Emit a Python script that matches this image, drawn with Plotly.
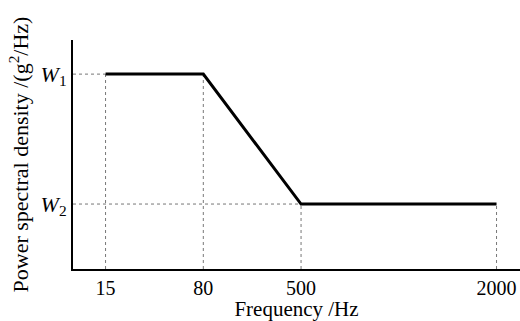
import plotly.graph_objects as go

# Data
freq_labels = ["15", "80", "500", "2000"]
freq_pos = [1, 2, 3, 5]          # axis slot of each frequency break-point
psd_labels = ["<i>W</i><sub>1</sub>", "<i>W</i><sub>2</sub>"]
psd_levels = [3, 1]              # relative levels of W1 and W2
psd_values = [3, 3, 1, 1]        # PSD at each frequency break-point

x_range = [0.667, 5.24]
y_range = [0, 3.525]

fig = go.Figure()

guide = dict(color="#777777", width=1, dash="dot")
# vertical guides
for xp, yv in zip(freq_pos, psd_values):
    fig.add_trace(go.Scatter(x=[xp, xp], y=[0, yv], mode="lines", line=guide,
                             hoverinfo="skip", showlegend=False))
# horizontal guides
for lvl in psd_levels:
    first = next(xp for xp, yv in zip(freq_pos, psd_values) if yv == lvl)
    fig.add_trace(go.Scatter(x=[x_range[0], first], y=[lvl, lvl], mode="lines",
                             line=guide, hoverinfo="skip", showlegend=False))

fig.add_trace(go.Scatter(x=freq_pos, y=psd_values, mode="lines",
                         line=dict(color="black", width=3), showlegend=False))

font = "Liberation Serif"
fig.update_layout(
    width=520, height=321,
    margin=dict(l=73, r=0, t=40, b=52),
    paper_bgcolor="white", plot_bgcolor="white",
    font=dict(family=font, size=20, color="black"),
    xaxis=dict(range=x_range, tickvals=freq_pos, ticktext=freq_labels,
               showgrid=False, zeroline=False, showline=True,
               linecolor="black", linewidth=2, ticks="", ticklen=0,
               tickfont=dict(size=20),
               title=dict(text="Frequency /Hz", standoff=1, font=dict(size=21))),
    yaxis=dict(range=y_range, tickvals=psd_levels, ticktext=psd_labels,
               showgrid=False, zeroline=False, showline=True,
               linecolor="black", linewidth=2, ticks="", ticklen=0,
               tickfont=dict(size=22),
               title=dict(text="Power spectral density /(g<sup>2</sup>/Hz)",
                          standoff=6, font=dict(size=22))),
)

fig.write_html("out.html", config={"displayModeBar": False},
               post_script="document.body.style.margin='0';")
